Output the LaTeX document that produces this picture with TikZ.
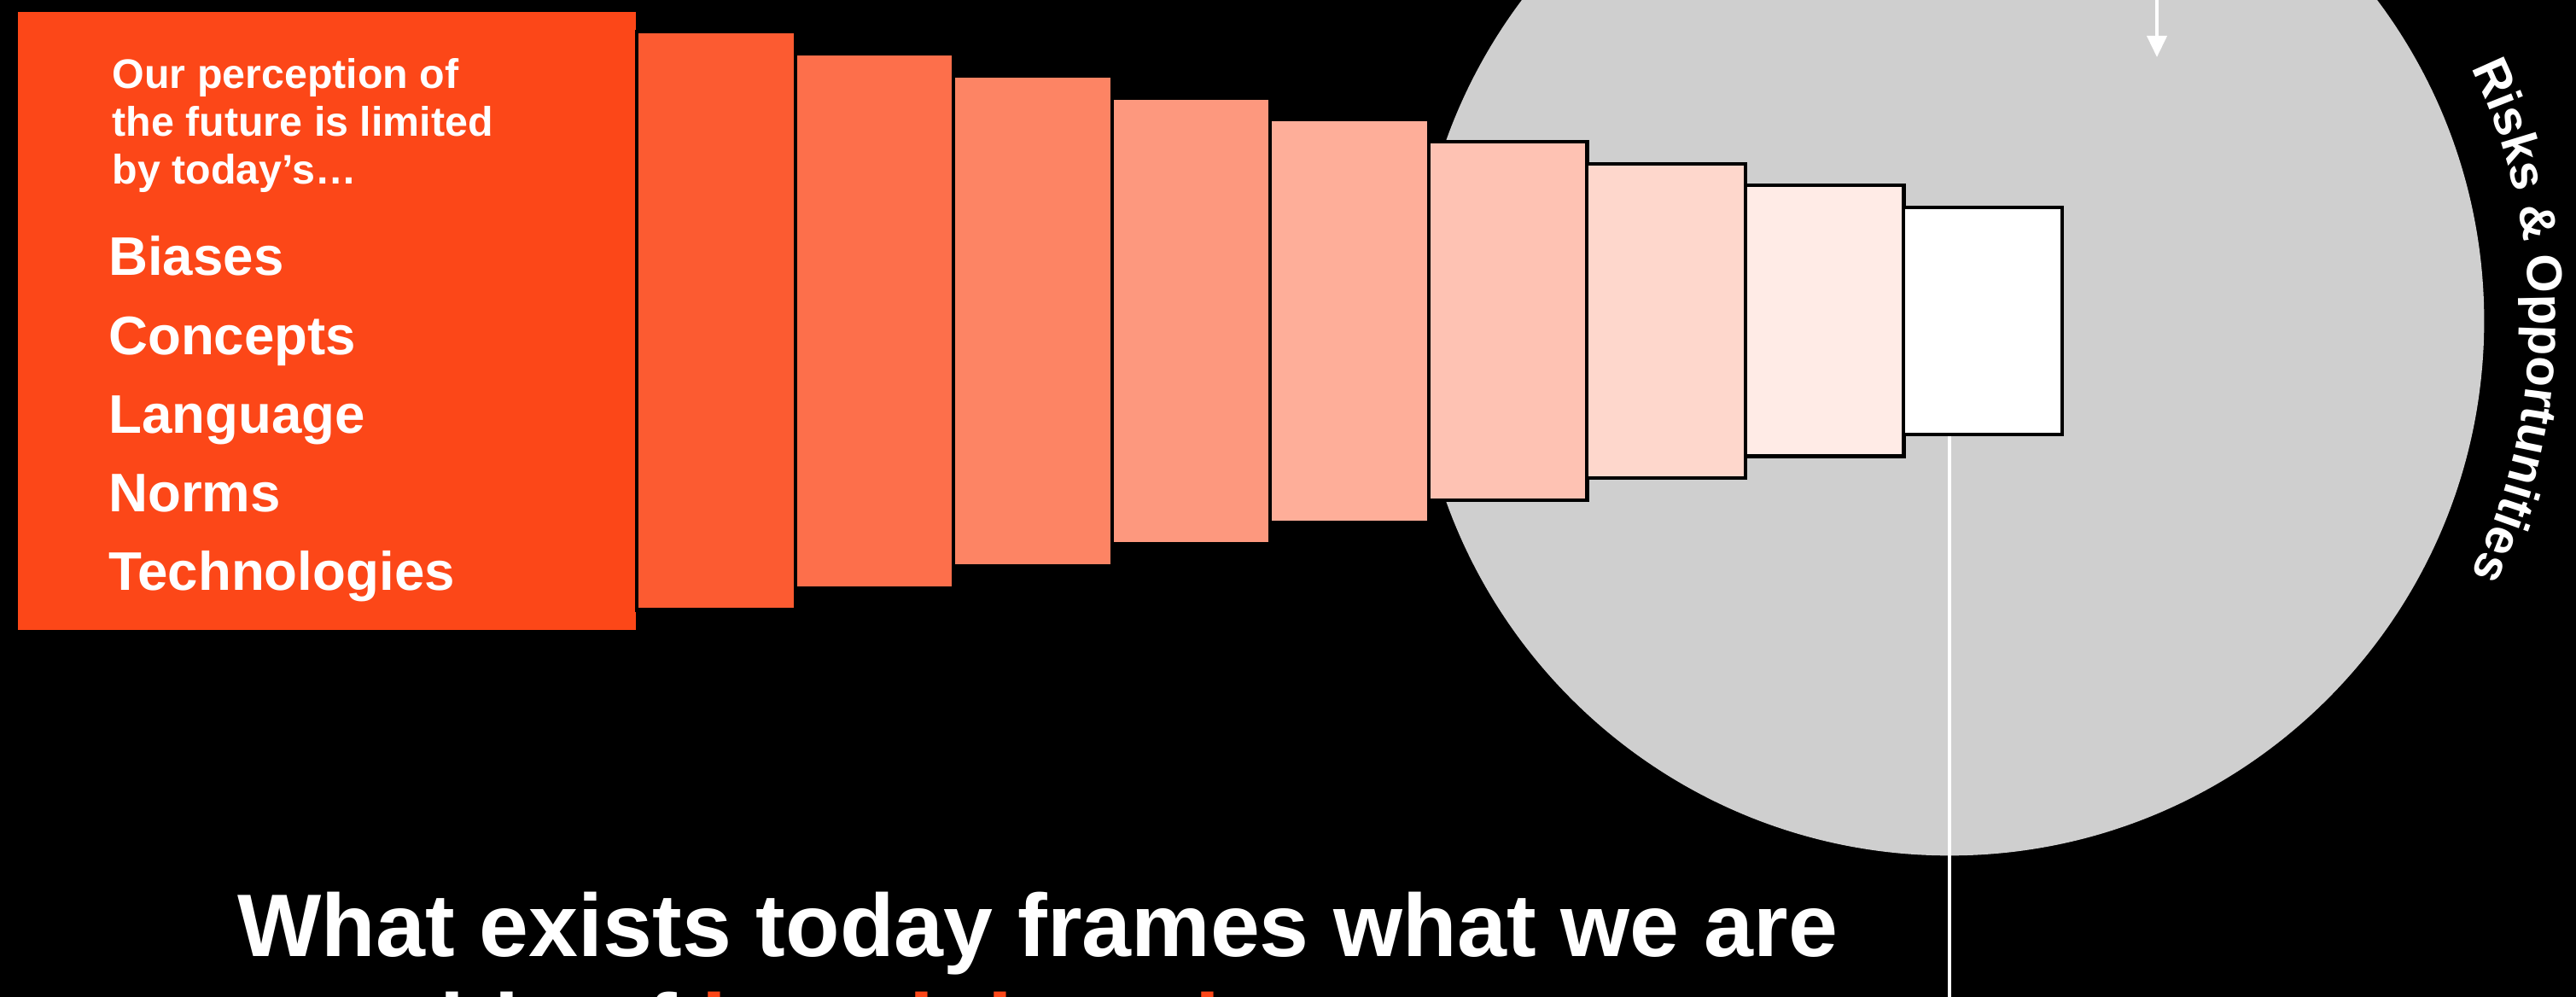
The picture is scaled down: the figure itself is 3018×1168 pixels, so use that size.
\documentclass[tikz,border=0pt]{standalone}
\usepackage{fontspec}
\setmainfont{Liberation Sans}
\usepackage{xcolor}
\usepackage{tikz}
\usetikzlibrary{
	arrows.meta,
	calc
}
\definecolor{futureorange}{HTML}{FC4718}
\definecolor{horizongray}{HTML}{CFCFCF}

\begin{document}
\begin{tikzpicture}[
    x=0.01cm, y=0.01cm,
    lens_box/.style={
        rectangle,
        draw=black,
        line width=1.2pt,
        minimum width=1.855cm,
        inner sep=0pt
    },
    intro_text/.style={
        text=white,
        font=\bfseries\fontsize{13.75}{15.9}\selectfont,
        align=left,
        inner sep=0pt
    },
    list_item/.style={
        text=white,
        font=\bfseries\fontsize{18.1}{21}\selectfont,
        inner sep=0pt,
        anchor=base west
    },
    headline/.style={
        text=white,
        font=\bfseries\fontsize{29.6}{33.2}\selectfont,
        inner sep=0pt,
        anchor=base west
    },
    risk_char/.style={
        text=white,
        font=\bfseries\fontsize{16.6}{19}\selectfont,
        inner sep=0pt,
        anchor=base
    },
    probe_edge/.style={
        -{Triangle[width=0.23cm, length=0.25cm]},
        line width=1.15pt,
        draw=white
    },
    tether_edge/.style={
        line width=1.2pt,
        draw=white
    }
]

    % ====== 背景 ======
    \useasboundingbox (0,0) rectangle (3018,1168);
    \clip (0,0) rectangle (3018,1168);
    \fill[black] (0,0) rectangle (3018,1168);

    % 灰色圆：未来的可能空间
    \node[circle, fill=horizongray, minimum size=12.52cm, inner sep=0pt] (horizon) at (2284, 792) {};

    % ====== 左侧：今天的框架 ======
    \node[lens_box, fill=futureorange, minimum width=7.28cm, minimum height=7.272cm] (today) at (383, 792) {};

    % 逐渐变淡的矩形序列
    \foreach \k in {1,...,9} {
        \pgfmathtruncatemacro{\mix}{round(100-100*\k/9)}
        \node[lens_box, fill=futureorange!\mix!white, minimum height={6.768cm-0.514cm*(\k-1)}] (lens\k) at ({839.15+185.5*(\k-1)}, 792) {};
    }

    % 左上角文字
    \node[intro_text, anchor=north west] (perception) at (131, 1100) {Our perception of\\the future is limited\\by today’s…};
    \foreach \word [count=\i] in {Biases, Concepts, Language, Norms, Technologies} {
        \node[list_item] (item\i) at (126.5, {845-92.25*(\i-1)}) {\word};
    }

    % ====== 右侧：箭头、竖线和弧形文字 ======
    \coordinate (probe_top) at (2527, 1168);
    \coordinate (probe_tip) at (2527, 1101);
    \draw[probe_edge] (probe_top) -- (probe_tip);

    \coordinate (tether_end) at (2284, 0);
    \draw[tether_edge] (lens9.south -| horizon.center) -- (tether_end);

    % 沿圆弧逐字排列（字宽以 1/1000 em 计）
    \gdef\arcpos{0}
    \foreach \ch/\w [count=\i] in {R/722, i/278, s/556, k/556, s/556, {}/278, \&/722, {}/278,
        O/778, p/611, p/611, o/611, r/389, t/333, u/611, n/611, i/278, t/333, i/278, e/556, s/556} {
        \pgfmathsetmacro{\charmid}{\arcpos+\w/2}
        \pgfmathsetmacro{\charang}{(5251-\charmid)*0.004923}
        \node[risk_char, rotate=\charang-90] (risk\i) at ($(horizon.center)+(\charang:6.79cm)$) {\ch};
        \pgfmathsetmacro{\newpos}{\arcpos+\w}
        \xdef\arcpos{\newpos}
    }

    % ====== 底部标题 ======
    \node[headline] (headline_a) at (278, 47) {What exists today frames what we are};
    \node[headline] (headline_b) at (278, -69.5) {capable of {\color{futureorange}imagining about tomorrow}};

\end{tikzpicture}
\end{document}
